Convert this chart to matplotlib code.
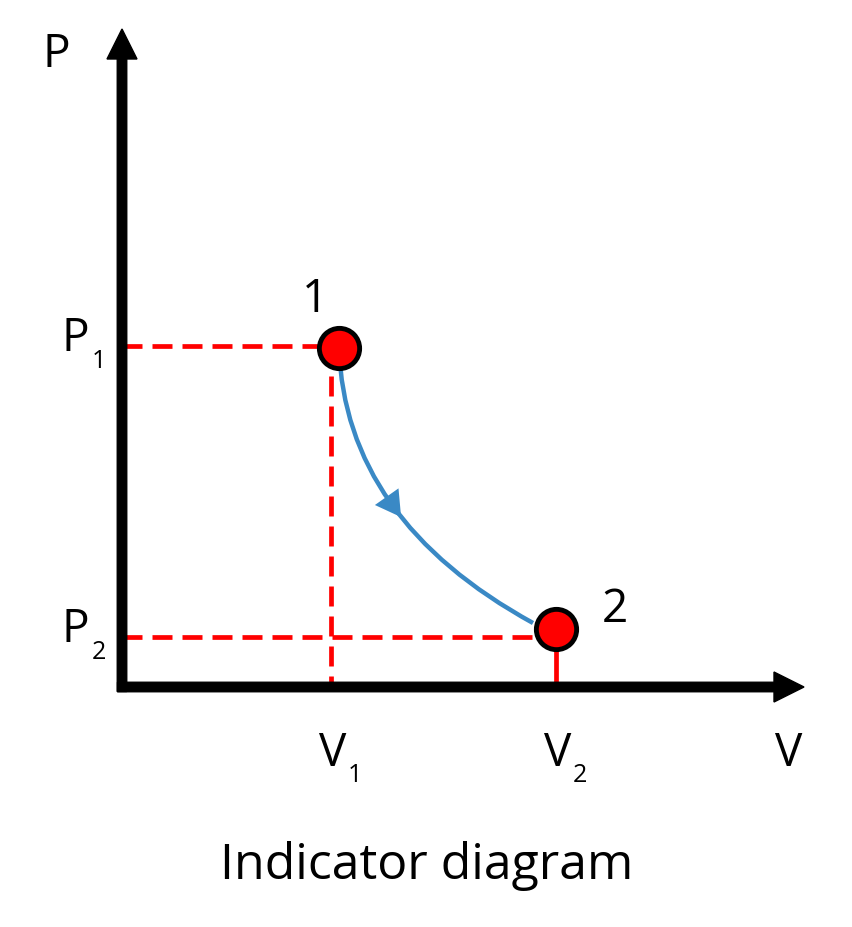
import numpy as np
import matplotlib
matplotlib.use("Agg")
import matplotlib.pyplot as plt
from matplotlib.path import Path
from matplotlib.patches import PathPatch

plt.rcParams['font.family'] = ['Open Sans', 'DejaVu Sans']
plt.rcParams['lines.scale_dashes'] = False

# ---- data (diagram units) ----
state_labels = ["1", "2"]
state_V = [2.17, 4.34]        # volume of the two states
state_P = [3.39, 0.58]        # pressure of the two states
V_ticks = [2.09, 4.34]        # V1, V2 reference lines
P_ticks = [3.41, 0.50]        # P1, P2 reference lines
V_tick_labels = ["1", "2"]
P_tick_labels = ["1", "2"]
curve_control = [2.23, 1.67]  # control point of the process curve
curve_end = [4.11, 0.64]      # curve ends at the rim of state 2
axis_V_max = 6.82
axis_P_max = 6.58

RED = '#ff0000'
BLUE = '#3a89c5'

fig = plt.figure(figsize=(8.52, 9.27), dpi=100)
ax = fig.add_axes([0, 0, 1, 1])
ax.set_xlim(-1.22, 7.30)
ax.set_ylim(-2.40, 6.87)
ax.set_aspect('equal')
ax.axis('off')

# axes arrows
ax.arrow(0, -0.045, 0, axis_P_max + 0.045, width=0.095, head_width=0.30,
         head_length=0.30, length_includes_head=True, color='black', zorder=3)
ax.arrow(-0.045, 0, axis_V_max + 0.045, 0, width=0.095, head_width=0.30,
         head_length=0.30, length_includes_head=True, color='black', zorder=3)

dash = (0, (14.4, 7.2))
lw_red = 3.4
# P1 / V1 dashed lines
ax.plot([0, state_V[0]], [P_ticks[0], P_ticks[0]], color=RED, lw=lw_red,
        linestyle=dash, dash_capstyle='butt', zorder=2)
ax.plot([V_ticks[0], V_ticks[0]], [P_ticks[0], 0.02], color=RED, lw=lw_red,
        linestyle=dash, dash_capstyle='butt', zorder=2)
# P2 dashed line
ax.plot([0, state_V[1]], [P_ticks[1], P_ticks[1]], color=RED, lw=lw_red,
        linestyle=dash, dash_capstyle='butt', zorder=2)
# V2 solid line
ax.plot([V_ticks[1], V_ticks[1]], [state_P[1], 0.05], color=RED, lw=lw_red, zorder=2)

# process curve (quadratic Bezier)
p0 = np.array([state_V[0], state_P[0]])
p1 = np.array(curve_control)
p2 = np.array(curve_end)
path = Path([p0, p1, p2], [Path.MOVETO, Path.CURVE3, Path.CURVE3])
ax.add_patch(PathPatch(path, facecolor='none', edgecolor=BLUE, lw=3.2, zorder=4))

# arrow head on curve at t=0.5
t = 0.5
pt = (1 - t) ** 2 * p0 + 2 * t * (1 - t) * p1 + t ** 2 * p2
tan = 2 * (1 - t) * (p1 - p0) + 2 * t * (p2 - p1)
ang = np.degrees(np.arctan2(tan[1], tan[0])) - 90
ax.plot(pt[0], pt[1], marker=(3, 0, ang), markersize=24, color=BLUE, mew=0, zorder=4)

# states
ax.plot(state_V, state_P, 'o', markersize=29, markerfacecolor=RED,
        markeredgecolor='black', markeredgewidth=3.5, linestyle='none', zorder=5)

# labels
big = 33
small = 18
ax.text(-0.66, 6.20, "P", fontsize=big, ha='center', va='baseline')
ax.text(6.665, -0.79, "V", fontsize=big, ha='center', va='baseline')
for p, lab in zip(P_ticks, P_tick_labels):
    ax.text(-0.465, p - 0.05, "P", fontsize=big, ha='center', va='baseline')
    ax.text(-0.23, p - 0.22, lab, fontsize=small, ha='center', va='baseline')
for v, lab in zip(V_ticks, V_tick_labels):
    ax.text(v + 0.02, -0.79, "V", fontsize=big, ha='center', va='baseline')
    ax.text(v + 0.24, -0.95, lab, fontsize=small, ha='center', va='baseline')
ax.text(state_V[0] - 0.235, state_P[0] + 0.36, state_labels[0], fontsize=big, ha='center', va='baseline')
ax.text(state_V[1] + 0.59, state_P[1] + 0.07, state_labels[1], fontsize=big, ha='center', va='baseline')

ax.text(3.045, -1.92, "Indicator diagram", fontsize=36, ha='center', va='baseline')

fig.savefig("out.png", dpi=100)
